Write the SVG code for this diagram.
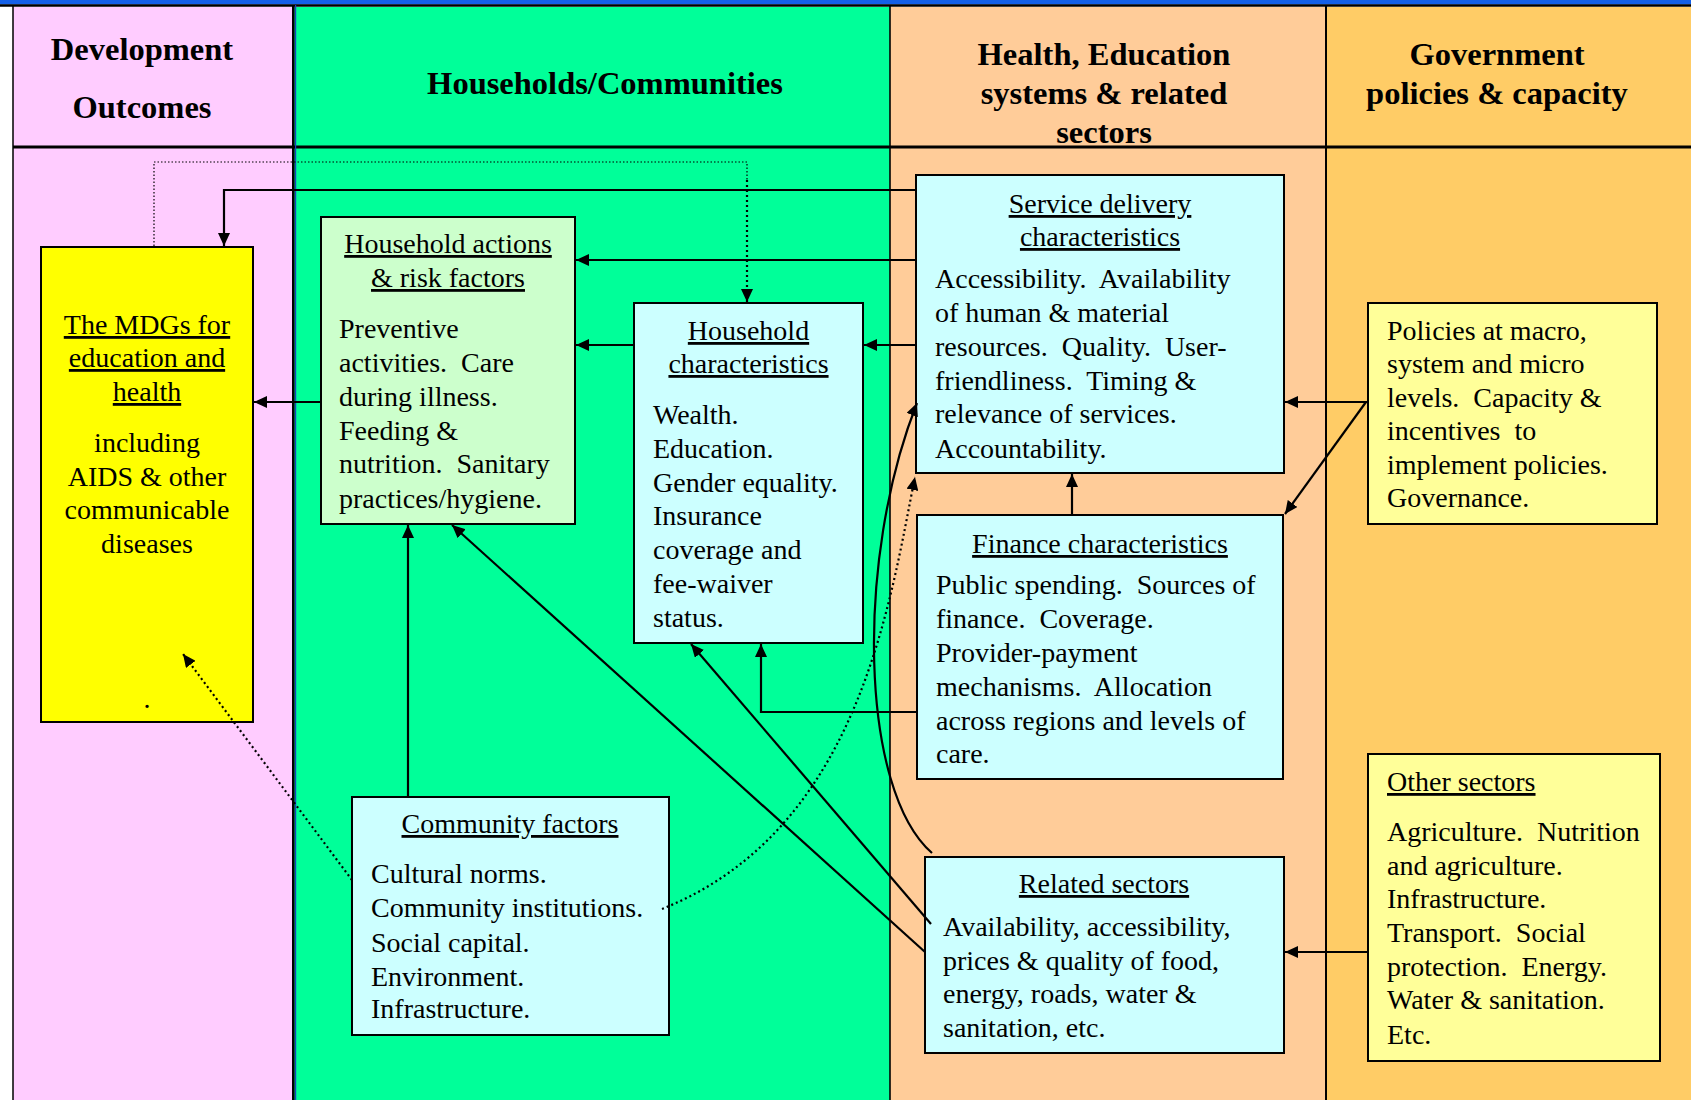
<svg xmlns="http://www.w3.org/2000/svg" width="1691" height="1100" viewBox="0 0 1691 1100" xml:space="preserve">
<defs>
<style>
.hdr{font-family:"Liberation Serif","Times New Roman",serif;font-weight:bold;font-size:32.5px;text-anchor:middle;fill:#000}
.t{font-family:"Liberation Serif","Times New Roman",serif;font-size:28px;fill:#000;white-space:pre}
.c{text-anchor:middle}
.u{text-decoration:underline}
.box{stroke:#000;stroke-width:2}
.conn{fill:none;stroke:#000;stroke-width:2.2}
.dot{fill:none;stroke:#000;stroke-width:2.2;stroke-dasharray:2 3}
.fdot{fill:none;stroke:#000;stroke-width:1.2;stroke-dasharray:1.5 2}
</style>
<marker id="ah" markerUnits="userSpaceOnUse" markerWidth="14" markerHeight="12" refX="13" refY="6" orient="auto"><path d="M0,0 L13,6 L0,12 z" fill="#000"/></marker>
</defs>
<g id="background">
<rect x="0" y="0" width="1691" height="1100" fill="#fff"/>
<rect x="13" y="7" width="281" height="1093" fill="#FFCCFF"/>
<rect x="294" y="7" width="596" height="1093" fill="#00FF99"/>
<rect x="890" y="7" width="436" height="1093" fill="#FFCC99"/>
<rect x="1326" y="7" width="365" height="1093" fill="#FFCC66"/>
<rect x="0" y="0" width="1691" height="4.5" fill="#1460E8"/>
<line x1="0" y1="5.5" x2="1691" y2="5.5" stroke="#000" stroke-width="2.5"/>
<line x1="13" y1="147" x2="1691" y2="147" stroke="#000" stroke-width="3"/>
<line x1="13" y1="5" x2="13" y2="1100" stroke="#000" stroke-width="1.5"/>
<line x1="293.3" y1="5" x2="293.3" y2="1100" stroke="#000" stroke-width="2.6"/>
<line x1="295.6" y1="5" x2="295.6" y2="1100" stroke="#1F3FC0" stroke-width="1.2"/>
<line x1="890" y1="5" x2="890" y2="1100" stroke="#000" stroke-width="1.6"/>
<line x1="1326" y1="5" x2="1326" y2="1100" stroke="#000" stroke-width="2"/>
</g>
<g id="headers">
<text class="hdr" x="142" y="60">Development</text>
<text class="hdr" x="142" y="118">Outcomes</text>
<text class="hdr" x="605" y="94">Households/Communities</text>
<text class="hdr" x="1104" y="65">Health, Education</text>
<text class="hdr" x="1104" y="104">systems &amp; related</text>
<text class="hdr" x="1104" y="143">sectors</text>
<text class="hdr" x="1497" y="65">Government</text>
<text class="hdr" x="1497" y="104">policies &amp; capacity</text>
</g>
<g id="mdg">
<rect class="box" x="41" y="247" width="212" height="475" fill="#FFFF00"/>
<text class="t c u" x="147" y="334">The MDGs for</text>
<text class="t c u" x="147" y="367">education and</text>
<text class="t c u" x="147" y="401">health</text>
<text class="t c" x="147" y="452">including</text>
<text class="t c" x="147" y="486">AIDS &amp; other</text>
<text class="t c" x="147" y="519">communicable</text>
<text class="t c" x="147" y="553">diseases</text>
<text class="t c" x="147" y="708">.</text>
</g>
<g id="household-actions">
<rect class="box" x="321" y="217" width="254" height="307" fill="#CCFFCC"/>
<text class="t c u" x="448" y="253">Household actions</text>
<text class="t c u" x="448" y="287">&amp; risk factors</text>
<text class="t" x="339" y="338">Preventive</text>
<text class="t" x="339" y="372">activities.  Care</text>
<text class="t" x="339" y="406">during illness.</text>
<text class="t" x="339" y="440">Feeding &amp;</text>
<text class="t" x="339" y="473">nutrition.  Sanitary</text>
<text class="t" x="339" y="508">practices/hygiene.</text>
</g>
<g id="household-characteristics">
<rect class="box" x="634" y="303" width="229" height="340" fill="#CCFFFF"/>
<text class="t c u" x="748.5" y="340">Household</text>
<text class="t c u" x="748.5" y="373">characteristics</text>
<text class="t" x="653" y="424">Wealth.</text>
<text class="t" x="653" y="458">Education.</text>
<text class="t" x="653" y="492">Gender equality.</text>
<text class="t" x="653" y="525">Insurance</text>
<text class="t" x="653" y="559">coverage and</text>
<text class="t" x="653" y="593">fee-waiver</text>
<text class="t" x="653" y="627">status.</text>
</g>
<g id="service-delivery">
<rect class="box" x="916" y="175" width="368" height="298" fill="#CCFFFF"/>
<text class="t c u" x="1100" y="213">Service delivery</text>
<text class="t c u" x="1100" y="246">characteristics</text>
<text class="t" x="935" y="288">Accessibility.  Availability</text>
<text class="t" x="935" y="322">of human &amp; material</text>
<text class="t" x="935" y="356">resources.  Quality.  User-</text>
<text class="t" x="935" y="390">friendliness.  Timing &amp;</text>
<text class="t" x="935" y="423">relevance of services.</text>
<text class="t" x="935" y="458">Accountability.</text>
</g>
<g id="finance">
<rect class="box" x="917" y="515" width="366" height="264" fill="#CCFFFF"/>
<text class="t c u" x="1100" y="553">Finance characteristics</text>
<text class="t" x="936" y="594">Public spending.  Sources of</text>
<text class="t" x="936" y="628">finance.  Coverage.</text>
<text class="t" x="936" y="662">Provider-payment</text>
<text class="t" x="936" y="696">mechanisms.  Allocation</text>
<text class="t" x="936" y="730">across regions and levels of</text>
<text class="t" x="936" y="763">care.</text>
</g>
<g id="related-sectors">
<rect class="box" x="925" y="857" width="359" height="196" fill="#CCFFFF"/>
<text class="t c u" x="1104" y="893">Related sectors</text>
<text class="t" x="943" y="936">Availability, accessibility,</text>
<text class="t" x="943" y="970">prices &amp; quality of food,</text>
<text class="t" x="943" y="1003">energy, roads, water &amp;</text>
<text class="t" x="943" y="1037">sanitation, etc.</text>
</g>
<g id="policies">
<rect class="box" x="1368" y="303" width="289" height="221" fill="#FFFF99"/>
<text class="t" x="1387" y="340">Policies at macro,</text>
<text class="t" x="1387" y="373">system and micro</text>
<text class="t" x="1387" y="407">levels.  Capacity &amp;</text>
<text class="t" x="1387" y="440">incentives  to</text>
<text class="t" x="1387" y="474">implement policies.</text>
<text class="t" x="1387" y="507">Governance.</text>
</g>
<g id="other-sectors">
<rect class="box" x="1368" y="754" width="292" height="307" fill="#FFFF99"/>
<text class="t u" x="1387" y="791">Other sectors</text>
<text class="t" x="1387" y="841">Agriculture.  Nutrition</text>
<text class="t" x="1387" y="875">and agriculture.</text>
<text class="t" x="1387" y="908">Infrastructure.</text>
<text class="t" x="1387" y="942">Transport.  Social</text>
<text class="t" x="1387" y="976">protection.  Energy.</text>
<text class="t" x="1387" y="1009">Water &amp; sanitation.</text>
<text class="t" x="1387" y="1044">Etc.</text>
</g>
<g id="community">
<rect class="box" x="352" y="797" width="317" height="238" fill="#CCFFFF"/>
<text class="t c u" x="510" y="833">Community factors</text>
<text class="t" x="371" y="883">Cultural norms.</text>
<text class="t" x="371" y="917">Community institutions.</text>
<text class="t" x="371" y="952">Social capital.</text>
<text class="t" x="371" y="986">Environment.</text>
<text class="t" x="371" y="1018">Infrastructure.</text>
</g>
<g id="connectors">
<path class="fdot" d="M154,246 V162 H747 V180"/>
<path class="dot" d="M747,180 V302" marker-end="url(#ah)"/>
<path class="conn" d="M916,190 H224 V246" marker-end="url(#ah)"/>
<path class="conn" d="M916,260 H576" marker-end="url(#ah)"/>
<path class="conn" d="M916,345 H864" marker-end="url(#ah)"/>
<path class="conn" d="M634,345 H576" marker-end="url(#ah)"/>
<path class="conn" d="M321,402 H254" marker-end="url(#ah)"/>
<path class="conn" d="M1367,402 H1285" marker-end="url(#ah)"/>
<path class="conn" d="M1366,402 L1285,514" marker-end="url(#ah)"/>
<path class="conn" d="M1072,515 V474" marker-end="url(#ah)"/>
<path class="conn" d="M917,712 H761 V644" marker-end="url(#ah)"/>
<path class="conn" d="M1367,952 H1285" marker-end="url(#ah)"/>
<path class="conn" d="M408,797 V525" marker-end="url(#ah)"/>
<path class="conn" d="M925,952 L452,525" marker-end="url(#ah)"/>
<path class="conn" d="M931,924 L691,644" marker-end="url(#ah)"/>
<path class="conn" d="M932,853 C860,790 855,560 917,403" marker-end="url(#ah)"/>
<path class="dot" d="M662,909 C860,830 890,600 915,477" marker-end="url(#ah)"/>
<path class="dot" d="M352,880 L183,654" marker-end="url(#ah)"/>
</g>
</svg>
